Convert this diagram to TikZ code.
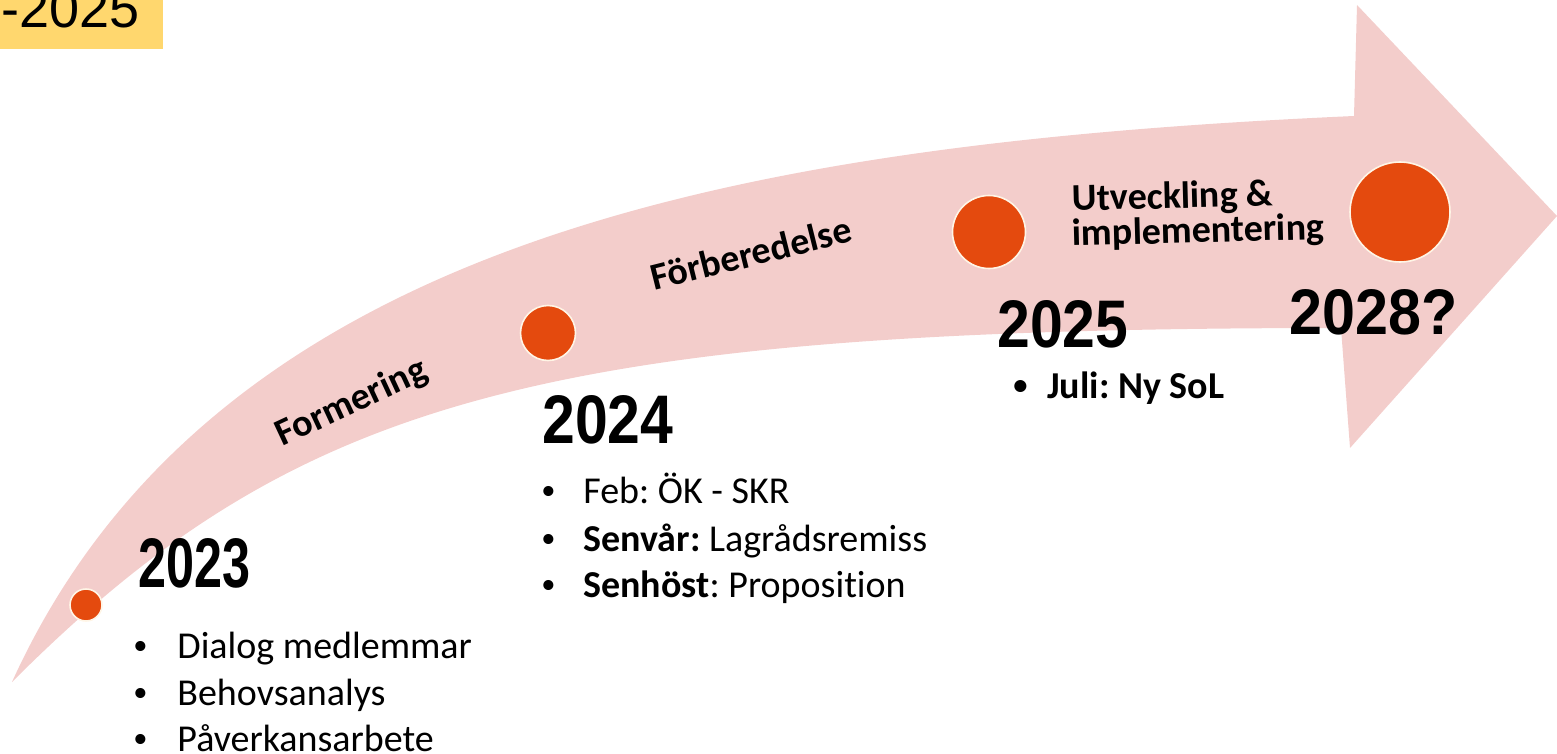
\documentclass[tikz,border=0pt]{standalone}
\usepackage{fontspec}
\setmainfont{Carlito}[Ligatures=NoCommon]
\newfontfamily\yearfont{Liberation Sans}
\newfontfamily\arialfont{Liberation Sans}
\definecolor{arrowpink}{RGB}{243,205,203}
\definecolor{dotorange}{RGB}{228,74,14}
\definecolor{dotrim}{RGB}{255,245,230}
\definecolor{tagyellow}{RGB}{255,215,110}
\newcommand{\bulbox}[1]{\makebox[#1][l]{\raisebox{2pt}{\scalebox{0.75}{•}}}}
\frenchspacing
\begin{document}
\begin{tikzpicture}[x=0.5pt,y=-0.5pt,
  dot/.style={circle, fill=dotorange, draw=dotrim, line width=0.8pt, inner sep=0pt},
  year/.style={anchor=north west, inner sep=0pt, font=\yearfont\bfseries},
  item/.style={anchor=base west, inner sep=0pt, font=\fontsize{19}{23}\selectfont},
  phase/.style={anchor=base west, inner sep=0pt, font=\fontsize{19}{23}\selectfont\bfseries}]
\useasboundingbox (0,0) rectangle (1557,754);
% curved arrow
\fill[arrowpink] (12,682) .. controls (215,235) and (754,143) .. (1354,116)
  -- (1357,5) -- (1557,216) -- (1350,448) -- (1341,328)
  .. controls (541,328) and (295,399) .. (12,682) -- cycle;
% tag
\fill[tagyellow] (0,0) rectangle (163,49);
\node[anchor=base west, inner sep=0pt, font=\arialfont\fontsize{27}{32}\selectfont] (tag) at (1,28) {-2025};
% dots
\node[dot, minimum size=16pt] (d23) at (86,605) {};
\node[dot, minimum size=27.5pt] (d24) at (548,333) {};
\node[dot, minimum size=36.5pt] (d25) at (989,232) {};
\node[dot, minimum size=50pt] (d28) at (1400,212) {};
% years
\node[year] (y23) at (138,538) {\resizebox{56pt}{24.5pt}{2023}};
\node[year] (y24) at (542,395) {\resizebox{65.5pt}{24pt}{2024}};
\node[year] (y25) at (997,300) {\resizebox{65.5pt}{23.5pt}{2025}};
\node[year] (y28) at (1289,289) {\resizebox{84pt}{22.5pt}{2028?}};
% phases
\node[phase, rotate=25] (formering) at (282,447) {Formering};
\node[phase, rotate=14] (forb) at (654,291) {Förberedelse};
\node[phase, rotate=1.5] (utv1) at (1072,211) {Utveckling \&};
\node[phase, rotate=1.5] (utv2) at (1072,246) {implementering};
% 2023 items
\node[item] (i231) at (133,658) {\bulbox{22pt}Dialog medlemmar};
\node[item] (i232) at (133,705) {\bulbox{22pt}Behovsanalys};
\node[item] (i233) at (133,751) {\bulbox{22pt}Påverkansarbete};
% 2024 items
\node[item] (i241) at (541,503) {\bulbox{21pt}Feb: ÖK - SKR};
\node[item] (i242) at (541,551) {\bulbox{21pt}\textbf{Senvår:} Lagrådsremiss};
\node[item] (i243) at (541,597) {\bulbox{21pt}\textbf{Senhöst}: Proposition};
% 2025 item
\node[item, font=\fontsize{19}{23}\selectfont\bfseries] (i251) at (1013,398) {\bulbox{17pt}Juli: Ny SoL};
\end{tikzpicture}
\end{document}
